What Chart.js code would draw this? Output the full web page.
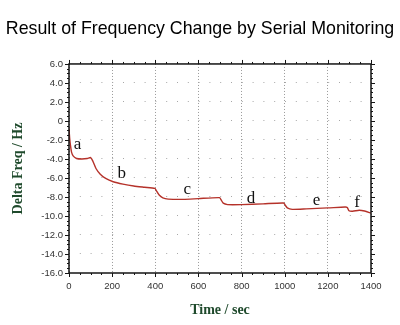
<!DOCTYPE html>
<html>
<head>
<meta charset="utf-8">
<script src="https://cdn.jsdelivr.net/npm/chart.js@4.4.0/dist/chart.umd.min.js"></script>
<style>
  html, body { margin: 0; padding: 0; background: #fff; }
  #wrap { width: 400px; height: 325px; position: relative; }
</style>
</head>
<body>
<div id="wrap"><canvas id="freqChart" width="400" height="325"></canvas></div>
<script>
// Serial monitoring trace: time (sec) vs frequency shift (Hz)
const timeSec = [0, 3, 7, 12, 20, 35, 60, 85, 100, 110, 125, 145, 170, 205, 250, 300, 350, 398,
    404, 418, 435, 460, 530, 600, 698, 705, 715, 735, 800, 900, 995, 1002, 1012, 1035, 1100,
    1200, 1280, 1290, 1298, 1315, 1345, 1370, 1400];
const deltaFreq = [-0.8, -1.8, -2.6, -3.3, -3.7, -3.95, -4.0, -3.95, -3.85, -4.2, -5.0, -5.6, -6.05, -6.4, -6.65, -6.85, -6.98, -7.1,
    -7.3, -7.8, -8.1, -8.22, -8.25, -8.17, -8.07, -8.3, -8.65, -8.8, -8.8, -8.72, -8.63, -8.85, -9.15, -9.3, -9.25,
    -9.15, -9.05, -9.1, -9.45, -9.5, -9.4, -9.48, -9.7];

// step markers written on the plot
const stepNames = ['a', 'b', 'c', 'd', 'e', 'f'];
const stepTime = [40, 244, 548, 844, 1148, 1335];
const stepFreq = [-3.0, -5.96, -7.72, -8.63, -8.87, -9.05];

const xTicks = [0, 200, 400, 600, 800, 1000, 1200, 1400];
const yTicks = [6, 4, 2, 0, -2, -4, -6, -8, -10, -12, -14, -16];

const axisGreen = '#1f4a2c';

// frame with outward tick marks (major + minor) and the step letters
const framePlugin = {
    id: 'frame',
    afterDraw(chart) {
        const { ctx, chartArea: a, scales } = chart;
        const xs = scales.x, ys = scales.y;
        ctx.save();
        ctx.strokeStyle = '#151515';
        ctx.lineWidth = 1.5;
        ctx.strokeRect(a.left, a.top, a.right - a.left, a.bottom - a.top);

        ctx.lineWidth = 1;
        ctx.beginPath();
        for (let t = 0; t <= 1400; t += 50) {
            const px = Math.round(xs.getPixelForValue(t)) + 0.5;
            const len = t % 200 === 0 ? 4 : 2;
            ctx.moveTo(px, a.top); ctx.lineTo(px, a.top - len);
            ctx.moveTo(px, a.bottom); ctx.lineTo(px, a.bottom + len);
        }
        for (let v = -16; v <= 6; v += 0.5) {
            const py = Math.round(ys.getPixelForValue(v)) + 0.5;
            const len = v % 2 === 0 ? 4 : 2;
            ctx.moveTo(a.left, py); ctx.lineTo(a.left - len, py);
            ctx.moveTo(a.right, py); ctx.lineTo(a.right + len, py);
        }
        ctx.stroke();

        ctx.fillStyle = '#111';
        ctx.font = '17px "Liberation Serif", "DejaVu Serif", serif';
        ctx.textAlign = 'center';
        ctx.textBaseline = 'alphabetic';
        stepNames.forEach((name, i) => {
            ctx.fillText(name, xs.getPixelForValue(stepTime[i]), ys.getPixelForValue(stepFreq[i]));
        });
        ctx.restore();
    }
};

const ctx = document.getElementById('freqChart').getContext('2d');
new Chart(ctx, {
    type: 'line',
    data: {
        datasets: [{
            data: timeSec.map((t, i) => ({ x: t, y: deltaFreq[i] })),
            borderColor: '#b5322a',
            borderWidth: 1.4,
            pointRadius: 0,
            tension: 0.2,
            fill: false
        }]
    },
    options: {
        responsive: false,
        animation: false,
        layout: { padding: 0 },
        plugins: {
            legend: { display: false },
            tooltip: { enabled: false },
            title: {
                display: true,
                text: 'Result of Frequency Change by Serial Monitoring',
                color: '#000',
                font: { family: '"Liberation Sans", Arial, sans-serif', size: 17.8, weight: 'normal', lineHeight: 1.2 },
                padding: { top: 18.3, bottom: 24.3 }
            }
        },
        scales: {
            x: {
                type: 'linear',
                min: 0,
                max: 1400,
                afterBuildTicks: s => { s.ticks = xTicks.map(v => ({ value: v })); },
                afterFit: s => { s.height = 52; },
                ticks: {
                    color: '#333',
                    font: { family: '"Liberation Sans", Arial, sans-serif', size: 9.5 },
                    padding: 8,
                    maxRotation: 0,
                    callback: v => String(v)
                },
                grid: { color: '#9a9a9a', lineWidth: 1, drawTicks: false },
                border: { display: false, dash: [1, 2] },
                title: {
                    display: true,
                    text: 'Time / sec',
                    color: axisGreen,
                    font: { family: '"Liberation Serif", "DejaVu Serif", serif', size: 14, weight: 'bold', lineHeight: 1.2 },
                    padding: { top: 0, bottom: 6.6 }
                }
            },
            y: {
                min: -16,
                max: 6,
                afterBuildTicks: s => { s.ticks = yTicks.map(v => ({ value: v })); },
                afterFit: s => { s.width = 69; },
                ticks: {
                    color: '#333',
                    font: { family: '"Liberation Sans", Arial, sans-serif', size: 9.5 },
                    padding: 6,
                    callback: v => (v === 0 ? '0' : v.toFixed(1))
                },
                grid: { color: '#a8a8a8', lineWidth: 1, drawTicks: false },
                border: { display: false, dash: [1, 9.8] },
                title: {
                    display: true,
                    text: 'Delta Freq / Hz',
                    color: axisGreen,
                    font: { family: '"Liberation Serif", "DejaVu Serif", serif', size: 14, weight: 'bold', lineHeight: 1.2 },
                    padding: { top: 9.6, bottom: 0 }
                }
            },
            // empty right-hand axis that only reserves the margin beside the frame
            yRight: {
                position: 'right',
                display: true,
                min: -16,
                max: 6,
                afterFit: s => { s.width = 29; },
                ticks: { display: false },
                grid: { display: false, drawTicks: false },
                border: { display: false }
            }
        }
    },
    plugins: [framePlugin]
});
</script>
</body>
</html>
